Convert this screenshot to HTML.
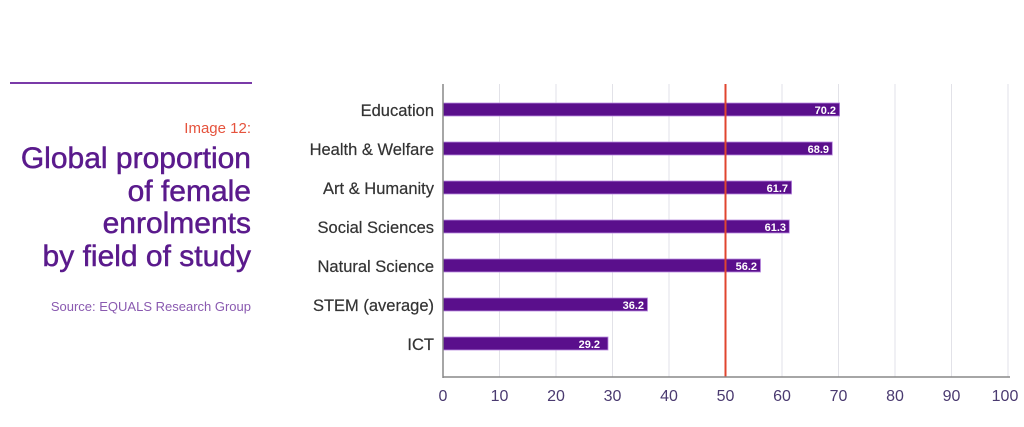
<!DOCTYPE html>
<html><head><meta charset="utf-8"><style>
body{margin:0;background:#fff;width:1024px;height:422px;overflow:hidden;font-family:"Liberation Sans",sans-serif;}
</style></head><body>
<svg width="1024" height="422" xmlns="http://www.w3.org/2000/svg" font-family="Liberation Sans, sans-serif">
<line x1="10" y1="83" x2="252" y2="83" stroke="#7a3aa8" stroke-width="2"/>
<text x="251" y="133" text-anchor="end" font-size="15" fill="#e5533d">Image 12:</text>
<g font-size="30" fill="#5a1a8c" stroke="#5a1a8c" stroke-width="0.5" text-anchor="end">
<text x="251" y="168">Global proportion</text>
<text x="251" y="201">of female</text>
<text x="251" y="233">enrolments</text>
<text x="251" y="266">by field of study</text>
</g>
<text x="251" y="311" text-anchor="end" font-size="13" fill="#8a5ab0">Source: EQUALS Research Group</text>
<g stroke="#e2e2e8" stroke-width="1">
<line x1="499.5" y1="84" x2="499.5" y2="377"/><line x1="556" y1="84" x2="556" y2="377"/><line x1="612.5" y1="84" x2="612.5" y2="377"/><line x1="669" y1="84" x2="669" y2="377"/><line x1="782" y1="84" x2="782" y2="377"/><line x1="838.5" y1="84" x2="838.5" y2="377"/><line x1="895" y1="84" x2="895" y2="377"/><line x1="951.5" y1="84" x2="951.5" y2="377"/><line x1="1008" y1="84" x2="1008" y2="377"/>
</g>
<g fill="#5a0f8c" stroke="#b98ae0" stroke-width="0.8">
<rect x="443" y="103" width="396.6" height="13"/>
<rect x="443" y="142" width="389.3" height="13"/>
<rect x="443" y="181" width="348.6" height="13"/>
<rect x="443" y="220" width="346.3" height="13"/>
<rect x="443" y="259" width="317.5" height="13"/>
<rect x="443" y="298" width="204.5" height="13"/>
<rect x="443" y="337" width="165" height="13"/>
</g>
<line x1="725.5" y1="84" x2="725.5" y2="377" stroke="#e0452f" stroke-width="2"/>
<line x1="443" y1="84" x2="443" y2="378" stroke="#888" stroke-width="1.5"/>
<line x1="443" y1="377" x2="1010" y2="377" stroke="#888" stroke-width="1.5"/>
<g font-size="11" fill="#fff" text-anchor="end" font-weight="bold">
<text x="836" y="114">70.2</text><text x="829" y="153">68.9</text><text x="788" y="192">61.7</text><text x="786" y="231">61.3</text><text x="757" y="270">56.2</text><text x="644" y="309">36.2</text><text x="600" y="348">29.2</text>
</g>
<g font-size="16.5" fill="#333" stroke="#333" stroke-width="0.2" text-anchor="end">
<text x="434" y="116">Education</text><text x="434" y="155">Health &amp; Welfare</text><text x="434" y="194">Art &amp; Humanity</text><text x="434" y="233">Social Sciences</text><text x="434" y="272">Natural Science</text><text x="434" y="311">STEM (average)</text><text x="434" y="350">ICT</text>
</g>
<g font-size="16" fill="#4a3a70" text-anchor="middle">
<text x="443" y="401">0</text><text x="499.5" y="401">10</text><text x="556" y="401">20</text><text x="612.5" y="401">30</text><text x="669" y="401">40</text><text x="725.5" y="401">50</text><text x="782" y="401">60</text><text x="838.5" y="401">70</text><text x="895" y="401">80</text><text x="951.5" y="401">90</text><text x="1005" y="401">100</text>
</g>
</svg>
</body></html>
